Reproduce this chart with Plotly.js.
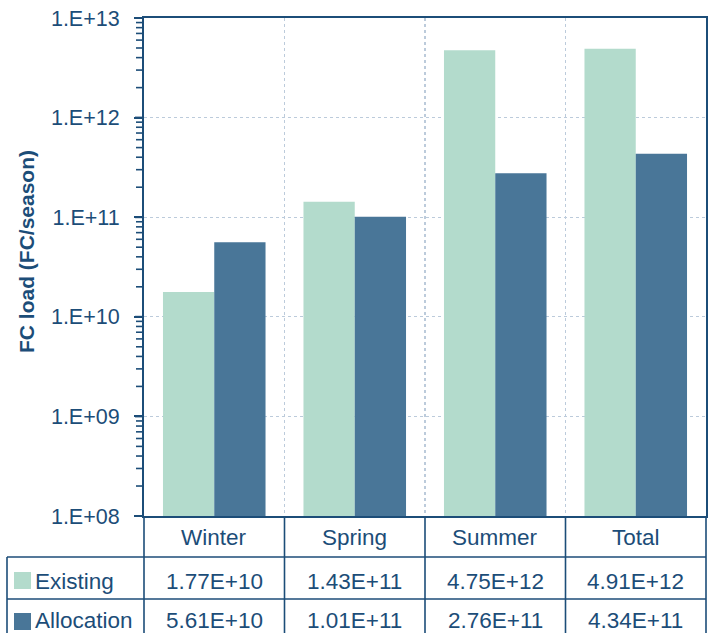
<!DOCTYPE html>
<html><head><meta charset="utf-8">
<script src="https://cdn.plot.ly/plotly-3.0.1.min.js"></script>
<style>body{margin:0;padding:0;}#chart{width:710px;height:633px;}</style>
</head><body><div id="chart"></div>
<script>
const categories = ["Winter", "Spring", "Summer", "Total"];
const existingValues = [1.77e10, 1.43e11, 4.75e12, 4.91e12];
const allocationValues = [5.61e10, 1.01e11, 2.76e11, 4.34e11];
const seriesNames = ["Existing", "Allocation"];
const yTickVals = [1e8, 1e9, 1e10, 1e11, 1e12, 1e13];
const yTickText = ["1.E+08", "1.E+09", "1.E+10", "1.E+11", "1.E+12", "1.E+13"];
const yTitle = "FC load (FC/season)";
const yLogRange = [8, 13];

const cExisting = "#b3dbcc";
const cAlloc = "#497698";
const dark = "#1c4d78";
const font = "Liberation Sans, Arial, sans-serif";

const fmt = v => v.toExponential(2).toUpperCase();

// minor tick positions 2..9 within each decade
const minorVals = [];
for (let d = yLogRange[0]; d < yLogRange[1]; d++) for (let m = 2; m <= 9; m++) minorVals.push(m * Math.pow(10, d));

const traces = [
  {type: "bar", name: seriesNames[0], x: categories, y: existingValues, marker: {color: cExisting}, hoverinfo: "none"},
  {type: "bar", name: seriesNames[1], x: categories, y: allocationValues, marker: {color: cAlloc}, hoverinfo: "none"}
];

const W = 562, H = 498;
const px = p => (p - 144) / W;
const py = p => (516 - p) / H;
const yFrac = v => (Math.log10(v) - yLogRange[0]) / (yLogRange[1] - yLogRange[0]);

const lineStyle = {color: dark, width: 1.6};
const shapes = [];
[557, 599].forEach(yy => shapes.push({type: "line", xref: "paper", yref: "paper", x0: px(7), x1: px(706), y0: py(yy), y1: py(yy), line: lineStyle}));
shapes.push({type: "line", xref: "paper", yref: "paper", x0: px(7), x1: px(7), y0: py(557), y1: py(640), line: lineStyle});
shapes.push({type: "line", xref: "paper", yref: "paper", x0: 0, x1: 0, y0: 0, y1: py(640), line: lineStyle});
shapes.push({type: "line", xref: "paper", yref: "paper", x0: 1, x1: 1, y0: 0, y1: py(640), line: lineStyle});
for (let i = 0; i < categories.length - 1; i++) {
  shapes.push({type: "line", xref: "x", yref: "paper", x0: i + 0.5, x1: i + 0.5, y0: 0, y1: py(640), line: lineStyle});
}
shapes.push({type: "rect", xref: "paper", yref: "paper", x0: px(14), x1: px(31), y0: py(589), y1: py(572), fillcolor: cExisting, line: {width: 0}});
shapes.push({type: "rect", xref: "paper", yref: "paper", x0: px(14), x1: px(31), y0: py(630), y1: py(613), fillcolor: cAlloc, line: {width: 0}});
// y-axis tick marks (major and minor), positioned on the log scale
yTickVals.forEach(v => shapes.push({type: "line", xref: "paper", yref: "paper", x0: px(135), x1: 0, y0: yFrac(v), y1: yFrac(v), line: {color: dark, width: 2}}));
minorVals.forEach(v => shapes.push({type: "line", xref: "paper", yref: "paper", x0: px(136), x1: 0, y0: yFrac(v), y1: yFrac(v), line: {color: dark, width: 1.6}}));

const annotations = [];
const tf = {family: font, size: 22.5, color: dark};
categories.forEach((c, i) => {
  annotations.push({xref: "x", yref: "paper", x: c, y: py(537), text: c, showarrow: false, font: tf, xanchor: "center", yanchor: "middle"});
  annotations.push({xref: "x", yref: "paper", x: c, y: py(581), text: fmt(existingValues[i]), showarrow: false, font: tf, xanchor: "center", yanchor: "middle"});
  annotations.push({xref: "x", yref: "paper", x: c, y: py(620), text: fmt(allocationValues[i]), showarrow: false, font: tf, xanchor: "center", yanchor: "middle"});
});
annotations.push({xref: "paper", yref: "paper", x: px(33), y: py(581), text: seriesNames[0], showarrow: false, font: tf, xanchor: "left", yanchor: "middle"});
annotations.push({xref: "paper", yref: "paper", x: px(33), y: py(620), text: seriesNames[1], showarrow: false, font: tf, xanchor: "left", yanchor: "middle"});
annotations.push({xref: "paper", yref: "paper", x: px(27), y: py(252), text: "<b>" + yTitle + "</b>", textangle: -90, showarrow: false,
  font: {family: font, size: 21, color: dark}, xanchor: "center", yanchor: "middle"});

const layout = {
  width: 710, height: 633,
  margin: {l: 144, r: 4, t: 18, b: 117, pad: 0},
  paper_bgcolor: "#ffffff", plot_bgcolor: "#ffffff",
  showlegend: false,
  barmode: "group", bargap: 0.27, bargroupgap: 0,
  font: {family: font, color: dark},
  xaxis: {
    type: "category", showticklabels: false, ticks: "",
    tickson: "boundaries", showgrid: true, gridcolor: "#bccbdb", griddash: "dot", gridwidth: 1.2,
    showline: true, linecolor: dark, linewidth: 2, mirror: true, zeroline: false,
    range: [-0.5, 3.5]
  },
  yaxis: {
    type: "log", range: yLogRange,
    tickmode: "array", tickvals: yTickVals, ticktext: yTickText,
    ticks: "outside", ticklen: 8, tickwidth: 2, tickcolor: dark,
    ticklabelstandoff: 10,
    tickfont: {family: font, size: 21.5, color: dark},
    showgrid: true, gridcolor: "#bccbdb", griddash: "dot", gridwidth: 1.2,
    showline: true, linecolor: dark, linewidth: 2, mirror: true, zeroline: false
  },
  shapes: shapes,
  annotations: annotations
};

Plotly.newPlot("chart", traces, layout, {displayModeBar: false, staticPlot: true});
</script></body></html>
